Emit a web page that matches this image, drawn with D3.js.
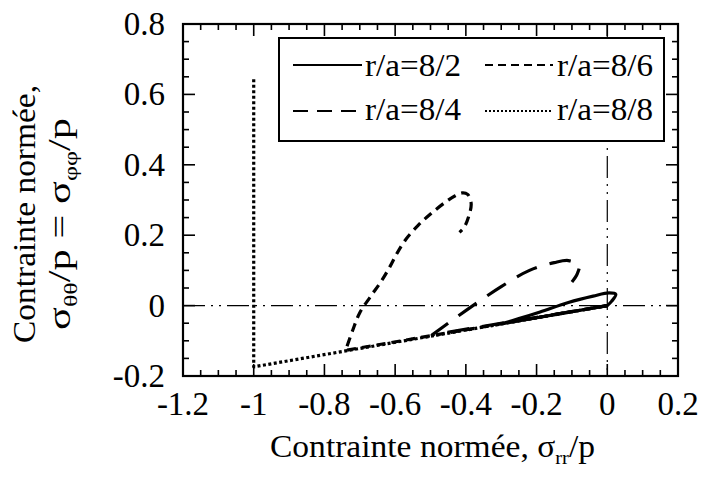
<!DOCTYPE html>
<html><head><meta charset="utf-8">
<script src="https://cdn.jsdelivr.net/npm/d3@7"></script>
</head>
<body style="margin:0;padding:0;background:#fff">
<script>
// ---- data ----
const xTicks = [-1.2, -1, -0.8, -0.6, -0.4, -0.2, 0, 0.2];
const yTicks = [-0.2, 0, 0.2, 0.4, 0.6, 0.8];
const xTickLabels = ["-1.2", "-1", "-0.8", "-0.6", "-0.4", "-0.2", "0", "0.2"];
const yTickLabels = ["-0.2", "0", "0.2", "0.4", "0.6", "0.8"];
const seriesNames = ["r/a=8/2", "r/a=8/4", "r/a=8/6", "r/a=8/8"];

const s82 = [[0,0],[-0.30,-0.052],[-0.25,-0.037],[-0.19,-0.018],[-0.11,0.009],[-0.04,0.027],[0.005,0.036],[0.024,0.032],[0.012,0.012],[0,0]];
const s84 = [[0,0],[-0.495,-0.083],[-0.45,-0.05],[-0.38,0.0],[-0.30,0.054],[-0.22,0.10],[-0.15,0.122],[-0.11,0.128],[-0.08,0.115],[-0.085,0.09],[-0.10,0.067]];
const s86 = [[0,0],[-0.74,-0.127],[-0.72,-0.07],[-0.70,-0.02],[-0.67,0.025],[-0.64,0.068],[-0.615,0.11],[-0.595,0.148],[-0.57,0.188],[-0.535,0.228],[-0.50,0.26],[-0.455,0.296],[-0.43,0.312],[-0.41,0.32],[-0.395,0.316],[-0.385,0.29],[-0.393,0.25],[-0.405,0.222],[-0.418,0.208]];
const s88 = [[0,0],[-1,-0.174],[-1,0.65]];

// ---- layout ----
const W = 702, H = 478;
const L = 183, T = 24, R = 678, B = 376;
const FONT = "Liberation Serif";
const svg = d3.select("body").append("svg").attr("width", W).attr("height", H);
const x = d3.scaleLinear().domain([-1.2, 0.2]).range([L, R]);
const y = d3.scaleLinear().domain([-0.2, 0.8]).range([B, T]);

function txt(sel, size) {
  return sel.append("text").attr("font-family", FONT).attr("font-size", size)
    .style("font-family", "'Liberation Serif'");
}

const minorX = d3.range(-1.2, 0.2001, 0.05).map(v => +v.toFixed(2));
const minorY = d3.range(-0.2, 0.8001, 0.05).map(v => +v.toFixed(2));

// reference lines
const refDash = "22,6,2,6,2,6";
svg.append("line").attr("x1", x(-1.2)).attr("x2", x(0.2)).attr("y1", y(0)).attr("y2", y(0))
  .attr("stroke", "#000").attr("stroke-width", 1.2).attr("stroke-dasharray", refDash);
svg.append("line").attr("x1", x(0)).attr("x2", x(0)).attr("y1", y(0.8)).attr("y2", y(-0.2))
  .attr("stroke", "#000").attr("stroke-width", 1.2).attr("stroke-dasharray", refDash);

// data lines: straight loading segment, then smooth loop
const smooth = d3.line().x(d => x(d[0])).y(d => y(d[1])).curve(d3.curveCatmullRom.alpha(0.5));
const straight = d3.line().x(d => x(d[0])).y(d => y(d[1]));
function pathOf(data, curved) {
  if (!curved) return straight(data);
  const head = straight(data.slice(0, 2));
  const tail = smooth(data.slice(1)).replace(/^M[^A-Za-z]*/, "");
  return head + tail;
}
const styles = [
  {data: s82, dash: null, curved: true},
  {data: s84, dash: "22,13", curved: true},
  {data: s86, dash: "9,6", curved: true},
  {data: s88, dash: "3,2.5", curved: false}
];
styles.forEach(s => {
  svg.append("path").attr("d", pathOf(s.data, s.curved)).attr("fill", "none")
    .attr("stroke", "#000").attr("stroke-width", 3.2)
    .attr("stroke-linejoin", "round")
    .attr("stroke-dasharray", s.dash);
});

// frame ticks
const tg = svg.append("g").attr("stroke", "#000").attr("stroke-width", 1.6);
minorX.forEach(v => {
  const major = xTicks.some(t => Math.abs(t - v) < 1e-6);
  const len = major ? 12 : 6;
  tg.append("line").attr("x1", x(v)).attr("x2", x(v)).attr("y1", B).attr("y2", B - len);
  tg.append("line").attr("x1", x(v)).attr("x2", x(v)).attr("y1", T).attr("y2", T + len);
});
minorY.forEach(v => {
  const major = yTicks.some(t => Math.abs(t - v) < 1e-6);
  const len = major ? 12 : 6;
  tg.append("line").attr("y1", y(v)).attr("y2", y(v)).attr("x1", L).attr("x2", L + len);
  tg.append("line").attr("y1", y(v)).attr("y2", y(v)).attr("x1", R).attr("x2", R - len);
});
svg.append("rect").attr("x", L).attr("y", T).attr("width", R - L).attr("height", B - T)
  .attr("fill", "none").attr("stroke", "#000").attr("stroke-width", 2.2);

// tick labels
xTicks.forEach((v, i) => {
  txt(svg, 33).attr("x", x(v)).attr("y", 415).attr("text-anchor", "middle").text(xTickLabels[i]);
});
yTicks.forEach((v, i) => {
  txt(svg, 33).attr("x", 165).attr("y", y(v) + 11).attr("text-anchor", "end").text(yTickLabels[i]);
});

// legend
const lg = svg.append("g");
lg.append("rect").attr("x", 279).attr("y", 38).attr("width", 385).attr("height", 103)
  .attr("fill", "#fff").attr("stroke", "#000").attr("stroke-width", 2);
const legPos = [
  {lx1: 293, lx2: 362, tx: 365, ly: 65, ty: 76, dash: null},
  {lx1: 293, lx2: 362, tx: 365, ly: 111, ty: 120, dash: "15,9"},
  {lx1: 485, lx2: 553, tx: 557, ly: 65, ty: 76, dash: "8,5"},
  {lx1: 485, lx2: 553, tx: 557, ly: 111, ty: 120, dash: "2,2"}
];
legPos.forEach((p, i) => {
  lg.append("line").attr("x1", p.lx1).attr("x2", p.lx2).attr("y1", p.ly).attr("y2", p.ly)
    .attr("stroke", "#000").attr("stroke-width", 2).attr("stroke-dasharray", p.dash);
  txt(lg, 32).attr("x", p.tx).attr("y", p.ty)
    .attr("textLength", 96).attr("lengthAdjust", "spacingAndGlyphs").text(seriesNames[i]);
});

// axis titles
const xt = txt(svg, 31).attr("x", 270).attr("y", 457)
  .attr("textLength", 325).attr("lengthAdjust", "spacingAndGlyphs");
xt.append("tspan").text("Contrainte normée, σ");
xt.append("tspan").attr("font-size", 19).attr("dy", 7).text("rr");
xt.append("tspan").attr("dy", -7).text("/p");

txt(svg, 31).attr("transform", "translate(35,343) rotate(-90)")
  .attr("textLength", 258).attr("lengthAdjust", "spacingAndGlyphs").text("Contrainte normée,");
const yt2 = txt(svg, 31).attr("transform", "translate(70,330) rotate(-90)")
  .attr("textLength", 212).attr("lengthAdjust", "spacingAndGlyphs");
yt2.append("tspan").text("σ");
yt2.append("tspan").attr("font-size", 19).attr("dy", 7).text("θθ");
yt2.append("tspan").attr("dy", -7).text("/p = σ");
yt2.append("tspan").attr("font-size", 19).attr("dy", 7).text("φφ");
yt2.append("tspan").attr("dy", -7).text("/p");
</script>
</body></html>
